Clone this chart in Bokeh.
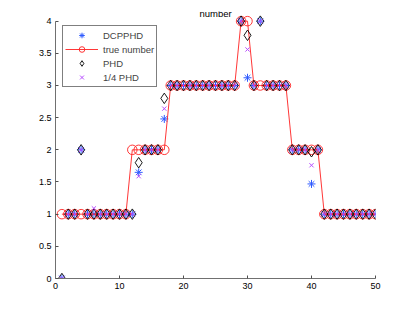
import numpy as np
from bokeh.plotting import figure
from bokeh.models import Range1d, FixedTicker, Label, Legend
from bokeh.embed import file_html
from bokeh.resources import INLINE

# ---- data ----
t = list(range(1, 51))
true_number = [1]*11 + [2]*6 + [3]*11 + [4]*2 + [3]*6 + [2]*5 + [1]*9
phd = ([0, 1, 1, 2] + [1]*8 + [1.8] + [2]*3 + [2.8] + [3]*11 + [4, 3.78, 3, 4] + [3]*4
       + [2]*3 + [1.97, 2] + [1]*9)
dcpphd = ([0, 1, 1, 2] + [1]*8 + [1.65] + [2]*3 + [2.48] + [3]*11 + [4, 3.12, 3, 4] + [3]*4
          + [2]*3 + [1.47, 2] + [1]*9)
quarter_phd = ([0, 1, 1, 2, 1, 1.09] + [1]*6 + [1.59] + [2]*3 + [2.64] + [3]*11 + [4, 3.56, 3, 4]
               + [3]*4 + [2]*3 + [1.76, 2] + [1]*9)

x_ticks = [0, 10, 20, 30, 40, 50]
y_ticks = [0, 0.5, 1, 1.5, 2, 2.5, 3, 3.5, 4]
y_tick_labels = ["0", "0.5", "1", "1.5", "2", "2.5", "3", "3.5", "4"]
title_text = "number"

FONT = "Liberation Sans"

p = figure(width=399, height=305, output_backend="svg", toolbar_location=None,
           x_range=Range1d(0, 50), y_range=Range1d(0, 4.15),
           min_border_left=55, min_border_right=24, min_border_top=11, min_border_bottom=27)
p.outline_line_color = None
p.grid.visible = False
p.background_fill_color = "white"
p.border_fill_color = "white"

r_star = p.scatter(t, dcpphd, marker="asterisk", size=8, line_color="#2f5bff", line_width=1)
r_line = p.line(t, true_number, line_color="#ff2020", line_width=0.9)
r_circ = p.scatter(t, true_number, marker="circle", size=9.5, fill_color=None,
                   line_color="#ff2020", line_width=0.9)
r_diam = p.scatter(t, phd, marker="diamond", size=10.5, fill_color=None,
                   line_color="black", line_width=0.9)
r_x = p.scatter(t, quarter_phd, marker="x", size=6, line_color="#b84dff", line_width=1)

legend = Legend(items=[("DCPPHD", [r_star]), ("true number", [r_line, r_circ]),
                       ("PHD", [r_diam]), ("1/4 PHD", [r_x])],
                location=(7, 191))
legend.label_text_font = FONT
legend.label_text_font_size = "9.5px"
legend.glyph_width = 33
legend.glyph_height = 14
legend.label_height = 14
legend.label_standoff = 5
legend.spacing = 0
legend.padding = 2
legend.margin = 0
legend.border_line_color = "black"
legend.border_line_width = 1
legend.background_fill_alpha = 1
p.add_layout(legend, "center")

for ax in (p.xaxis[0], p.yaxis[0]):
    ax.axis_line_color = "#707070"
    ax.major_tick_line_color = "#505050"
    ax.major_tick_in = 3
    ax.major_tick_out = 0
    ax.minor_tick_line_color = None
    ax.major_label_text_font = FONT
    ax.major_label_text_font_size = "9px"
    ax.major_label_text_color = "black"
    ax.major_label_standoff = 4

p.xaxis[0].ticker = FixedTicker(ticks=x_ticks)
p.yaxis[0].ticker = FixedTicker(ticks=y_ticks)
p.yaxis[0].major_label_overrides = {v: s for v, s in zip(y_ticks, y_tick_labels)}
p.yaxis[0].bounds = (0, 4)

p.add_layout(Label(x=25, y=4, text=title_text, text_align="center", text_baseline="alphabetic",
                   y_offset=8, text_font=FONT, text_font_size="9.5px", text_color="black"))

open("out.html", "w").write(file_html(p, INLINE))
